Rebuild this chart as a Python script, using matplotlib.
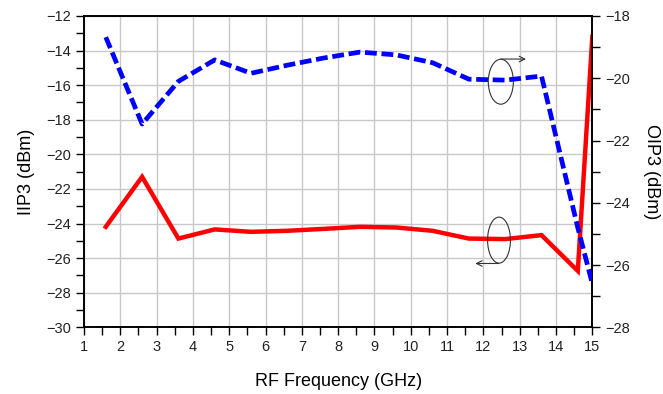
import matplotlib
matplotlib.use("Agg")
import matplotlib.pyplot as plt
from matplotlib.patches import Ellipse
from matplotlib.ticker import MultipleLocator

plt.rcParams['font.family'] = ['Liberation Sans', 'DejaVu Sans']

freq = [1.6, 2.6, 3.6, 4.6, 5.6, 6.6, 7.6, 8.6, 9.6, 10.6, 11.6, 12.6, 13.6, 14.6, 15.0]
iip3 = [-24.19, -21.3, -24.87, -24.34, -24.48, -24.42, -24.31, -24.19, -24.23, -24.42,
        -24.87, -24.9, -24.67, -26.74, -13.2]
oip3 = [-18.68, -21.47, -20.1, -19.41, -19.84, -19.58, -19.35, -19.16, -19.25, -19.5,
        -20.03, -20.06, -19.93, -24.8, -26.6]

fig = plt.figure(figsize=(6.63, 3.94), dpi=100)
ax = fig.add_axes([0.1267, 0.1693, 0.8934 - 0.1267, 0.9594 - 0.1693])
ax2 = ax.twinx()

ax.set_xlim(1, 15)
ax.set_ylim(-30, -12)
ax2.set_ylim(-28, -18)

ax.xaxis.set_major_locator(MultipleLocator(1))
ax.xaxis.set_minor_locator(MultipleLocator(0.5))
ax.yaxis.set_major_locator(MultipleLocator(2))
ax.yaxis.set_minor_locator(MultipleLocator(1))
ax2.yaxis.set_major_locator(MultipleLocator(2))
ax2.yaxis.set_minor_locator(MultipleLocator(1))

ax.grid(True, which='major', color='#c8c8c8', linewidth=1.0)
ax.set_axisbelow(True)

ax.plot(freq, iip3, color='#ff0000', linewidth=3.2, solid_joinstyle='miter', zorder=3)
ax2.plot(freq, oip3, color='#0000ff', linewidth=3.4, linestyle=(0, (2.5, 1.0)), zorder=3)

for a in (ax, ax2):
    for s in a.spines.values():
        s.set_color('black')
        s.set_linewidth(1.2)
    a.tick_params(which='both', direction='out', colors='black', labelsize=10.5,
                  width=1.0)
    a.tick_params(which='major', length=6)
    a.tick_params(which='minor', length=6)

ax.tick_params(axis='y', labelcolor='#222222')
ax.tick_params(axis='x', labelcolor='#222222')
ax2.tick_params(axis='y', labelcolor='#222222')

ax.set_xlabel('RF Frequency (GHz)', fontsize=13, labelpad=13)
ax.set_ylabel('IIP3 (dBm)', fontsize=13, labelpad=8)
ax2.set_ylabel('OIP3 (dBm)', fontsize=13, rotation=270, labelpad=21)

# annotations: ellipses with arrows
e1 = Ellipse((12.48, -15.8), 0.69, 2.6, fill=False, edgecolor='#333333', linewidth=0.8, zorder=4)
e2 = Ellipse((12.43, -24.96), 0.63, 2.66, fill=False, edgecolor='#333333', linewidth=0.8, zorder=4)
ax.add_patch(e1)
ax.add_patch(e2)
ax.annotate('', xy=(13.25, -14.49), xytext=(12.4, -14.49),
            arrowprops=dict(arrowstyle='->', color='#333333', lw=0.8))
ax.annotate('', xy=(11.7, -26.31), xytext=(12.5, -26.31),
            arrowprops=dict(arrowstyle='->', color='#333333', lw=0.8))

fig.savefig('out.png', dpi=100)
